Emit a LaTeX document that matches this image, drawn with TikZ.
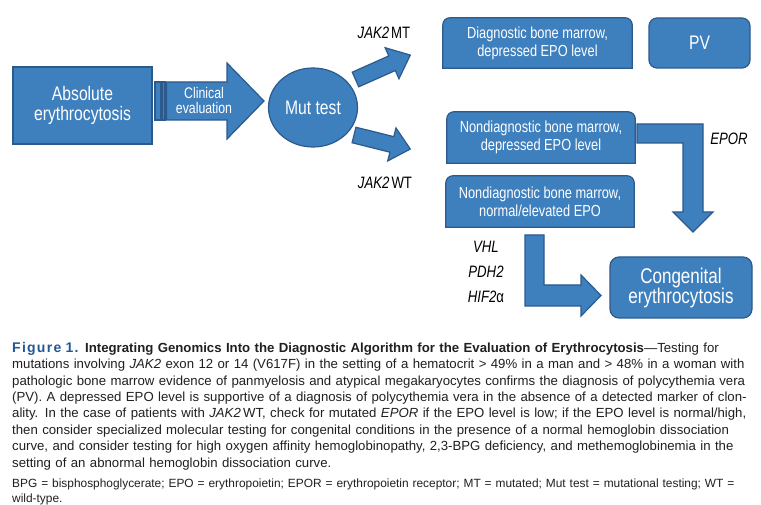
\documentclass[tikz,border=0pt]{standalone}
\usepackage{fontspec}
\setmainfont{Liberation Sans}
\newfontfamily\condfont[FakeStretch=0.8]{Liberation Sans}
\usetikzlibrary{shapes.geometric,backgrounds}

\definecolor{boxblue}{RGB}{62,127,190}
\definecolor{boxedge}{RGB}{44,90,140}
\definecolor{capblue}{RGB}{36,88,148}
\definecolor{captext}{RGB}{35,31,32}

\tikzset{
  shapefill/.style={fill=boxblue, draw=boxedge, line width=1.2pt},
  boxtext/.style={text=white, align=center, inner sep=0pt, font=\condfont\fontsize{16}{18}\selectfont},
  bigtext/.style={boxtext, font=\condfont\fontsize{19.6}{20.5}\selectfont},
  blockarrow/.style={shapefill, line join=miter},
  genelabel/.style={inner sep=0pt, align=center, font=\condfont\fontsize{16.5}{25}\selectfont},
}

% box with round top corners, square bottom corners
\newcommand{\roundtop}[1]{%
  \begin{pgfonlayer}{background}
    \draw[shapefill] (#1.south west) -- ([yshift=-7pt]#1.north west)
      arc[start angle=180, end angle=90, radius=7pt] -- ([xshift=-7pt]#1.north east)
      arc[start angle=90, end angle=0, radius=7pt] -- (#1.south east) -- cycle;
  \end{pgfonlayer}}

\begin{document}
\begin{tikzpicture}[x=1pt, y=-1pt]
  \useasboundingbox (0,0) rectangle (761,505);
  \begin{pgfonlayer}{background}
    \fill[white] (0,0) rectangle (761,505);
  \end{pgfonlayer}

  % left part
  \node[shapefill, bigtext, minimum width=139pt, minimum height=77pt] (absol) at (82.5,105.5) {Absolute\\erythrocytosis};
  \draw[shapefill] (155,82) rectangle (161,120);
  \draw[shapefill] (162.5,82) rectangle (165,120);
  \draw[blockarrow] (166.5,82) -- (227,82) -- (227,63) -- (264,101) -- (227,139) -- (227,120) -- (166.5,120) -- cycle;
  \node[boxtext, font=\condfont\fontsize{15.4}{15}\selectfont] (clin) at (204,100) {Clinical\\evaluation};
  \node[ellipse, shapefill, bigtext, minimum width=89pt, minimum height=79pt] (mut) at (313,107.5) {Mut test};

  % mutation arrows
  \draw[blockarrow, shift={(355.5,79.5)}, rotate=24] (0,-8) -- (40,-8) -- (40,-17) -- (60,0) -- (40,17) -- (40,8) -- (0,8) -- cycle;
  \draw[blockarrow, shift={(354,135)}, rotate=-14] (0,-8) -- (39,-8) -- (39,-17) -- (58,0) -- (39,17) -- (39,8) -- (0,8) -- cycle;
  \node[genelabel] (jakmt) at (384,33) {\textit{JAK2}\hspace{2pt}MT};
  \node[genelabel] (jakwt) at (385,183) {\textit{JAK2}\hspace{2pt}WT};

  % right part
  \node[boxtext, minimum width=189pt, minimum height=50pt] (diag) at (537.5,43) {Diagnostic bone marrow,\\depressed EPO level};
  \roundtop{diag}
  \node[shapefill, bigtext, rounded corners=8pt, minimum width=101pt, minimum height=50pt] (pv) at (699.5,43) {PV};
  \node[boxtext, minimum width=188pt, minimum height=51pt] (nddep) at (541,137.5) {Nondiagnostic bone marrow,\\depressed EPO level};
  \roundtop{nddep}
  \node[boxtext, minimum width=188pt, minimum height=51pt] (ndnorm) at (540,201.5) {Nondiagnostic bone marrow,\\normal/elevated EPO};
  \roundtop{ndnorm}
  \node[shapefill, boxtext, font=\condfont\fontsize{21.3}{20}\selectfont, rounded corners=9pt, minimum width=142pt, minimum height=61pt] (cong) at (681,287.5) {Congenital\\erythrocytosis};

  % elbow arrows
  \draw[blockarrow] (637,124) -- (703,124) -- (703,212) -- (713,212) -- (693,232) -- (673,212) -- (683,212) -- (683,143) -- (637,143) -- cycle;
  \draw[blockarrow] (525,235) -- (544,235) -- (544,285) -- (581,285) -- (581,275) -- (601,295.5) -- (581,316) -- (581,306) -- (525,306) -- cycle;
  \node[genelabel] (epor) at (729,139) {\textit{EPOR}};
  \node[genelabel] (genes) at (486,272) {\textit{VHL}\\\textit{PDH2}\\\textit{HIF2}α};

  % caption
  \node[anchor=north west, inner sep=0pt, text width=745pt, align=left, text=captext, font=\fontsize{13.2}{16.4}\selectfont] (caption) at (12,342) {%
    {\color{capblue}\bfseries\fontsize{14}{16.4}\selectfont\addfontfeatures{LetterSpace=9}Figure 1.} \textbf{Integrating Genomics Into the Diagnostic Algorithm for the Evaluation of Erythrocytosis}---Testing for\\
    mutations involving \textit{JAK2} exon 12 or 14 (V617F) in the setting of a hematocrit > 49\% in a man and > 48\% in a woman with\\
    pathologic bone marrow evidence of panmyelosis and atypical megakaryocytes confirms the diagnosis of polycythemia vera\\
    (PV). A depressed EPO level is supportive of a diagnosis of polycythemia vera in the absence of a detected marker of clon-\\
    ality. In the case of patients with \textit{JAK2}\,WT, check for mutated \textit{EPOR} if the EPO level is low; if the EPO level is normal/high,\\
    then consider specialized molecular testing for congenital conditions in the presence of a normal hemoglobin dissociation\\
    curve, and consider testing for high oxygen affinity hemoglobinopathy, 2,3-BPG deficiency, and methemoglobinemia in the\\
    setting of an abnormal hemoglobin dissociation curve.};
  \node[anchor=north west, inner sep=0pt, text width=745pt, align=left, text=captext, font=\fontsize{11.9}{15}\selectfont] (abbrev) at (12,479) {%
    BPG = bisphosphoglycerate; EPO = erythropoietin; EPOR = erythropoietin receptor; MT = mutated; Mut test = mutational testing; WT =\\
    wild-type.};
\end{tikzpicture}
\end{document}
